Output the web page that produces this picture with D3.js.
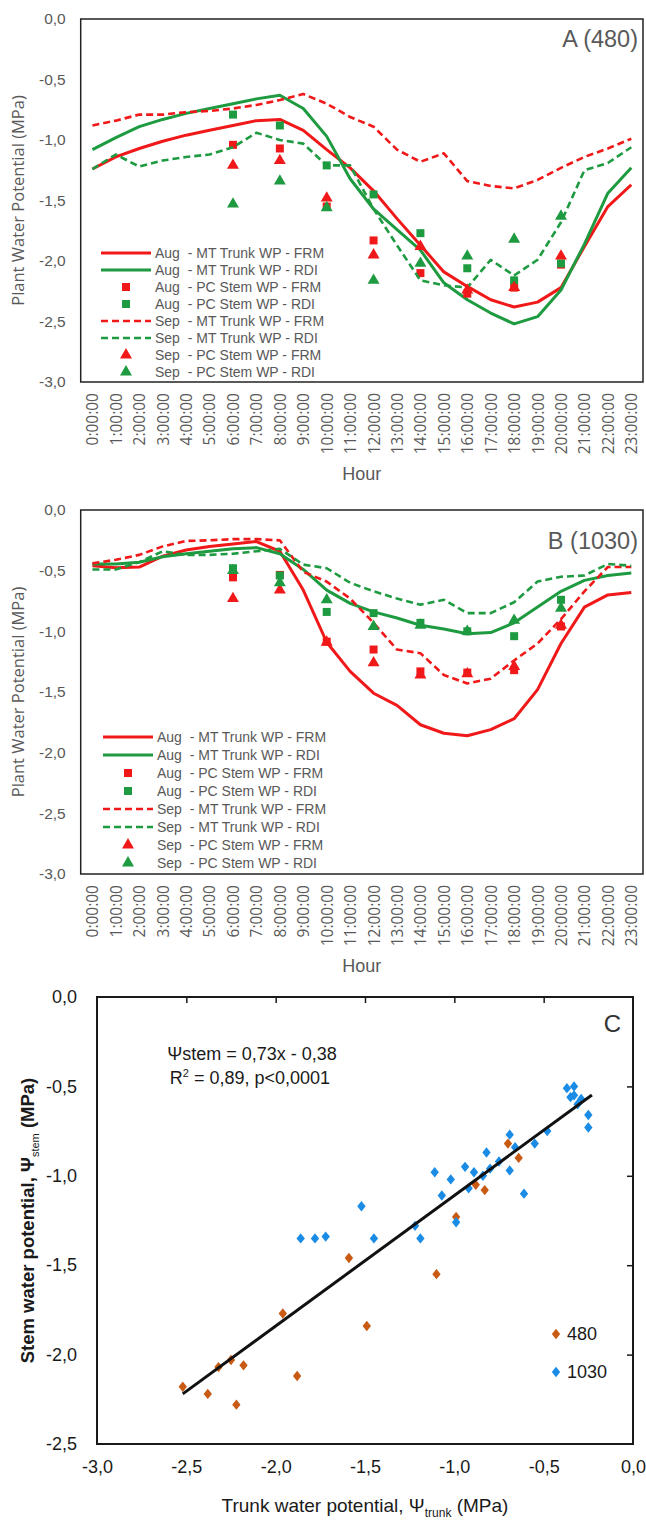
<!DOCTYPE html>
<html>
<head>
<meta charset="utf-8">
<script src="https://cdn.jsdelivr.net/npm/d3@7"></script>
<style>
  body { margin: 0; background: #fff; }
  text { font-family: 'Liberation Sans', Arial, sans-serif; }
  .wide { font-family: 'Open Sans', 'DejaVu Sans', sans-serif; }
</style>
</head>
<body>
<svg id="chart" width="646" height="1521"></svg>
<script>
'use strict';

// ---- data ----
const hours = ['0:00:00', '1:00:00', '2:00:00', '3:00:00', '4:00:00', '5:00:00', '6:00:00', '7:00:00',
    '8:00:00', '9:00:00', '10:00:00', '11:00:00', '12:00:00', '13:00:00', '14:00:00', '15:00:00',
    '16:00:00', '17:00:00', '18:00:00', '19:00:00', '20:00:00', '21:00:00', '22:00:00', '23:00:00'];
const sampleHours = ['6:00:00', '8:00:00', '10:00:00', '12:00:00', '14:00:00', '16:00:00', '18:00:00', '20:00:00'];
const wpTicks = [0, -0.5, -1, -1.5, -2, -2.5, -3];

// panel A (480)
const a_augTrunkFRM = [-1.24, -1.14, -1.07, -1.01, -0.96, -0.92, -0.88, -0.84, -0.83, -0.92, -1.08, -1.23,
    -1.42, -1.65, -1.87, -2.09, -2.21, -2.32, -2.38, -2.34, -2.22, -1.88, -1.55, -1.37];
const a_augTrunkRDI = [-1.08, -0.98, -0.89, -0.83, -0.78, -0.74, -0.70, -0.66, -0.63, -0.74, -0.97, -1.32,
    -1.57, -1.74, -1.91, -2.18, -2.32, -2.43, -2.52, -2.46, -2.24, -1.86, -1.44, -1.23];
const a_sepTrunkFRM = [-0.88, -0.84, -0.79, -0.79, -0.77, -0.76, -0.74, -0.71, -0.67, -0.62, -0.70, -0.81,
    -0.89, -1.08, -1.18, -1.11, -1.34, -1.38, -1.40, -1.33, -1.23, -1.14, -1.07, -0.99];
const a_sepTrunkRDI = [-1.24, -1.12, -1.22, -1.17, -1.14, -1.12, -1.06, -0.94, -1.00, -1.03, -1.21, -1.21,
    -1.57, -1.87, -2.16, -2.20, -2.22, -1.99, -2.12, -1.99, -1.68, -1.25, -1.19, -1.06];
const a_augStemFRM = [-1.04, -1.07, -1.55, -1.83, -2.10, -2.27, -2.22, -2.03];
const a_augStemRDI = [-0.79, -0.88, -1.21, -1.45, -1.77, -2.06, -2.16, -2.02];
const a_sepStemFRM = [-1.21, -1.17, -1.48, -1.95, -1.88, -2.24, -2.22, -1.96];
const a_sepStemRDI = [-1.53, -1.34, -1.56, -2.16, -2.02, -1.96, -1.82, -1.63];

// panel B (1030)
const b_augTrunkFRM = [-0.46, -0.475, -0.47, -0.38, -0.33, -0.30, -0.28, -0.26, -0.34, -0.66, -1.09, -1.33,
    -1.51, -1.61, -1.77, -1.84, -1.86, -1.81, -1.72, -1.48, -1.10, -0.80, -0.70, -0.68];
const b_augTrunkRDI = [-0.445, -0.445, -0.43, -0.385, -0.36, -0.34, -0.32, -0.31, -0.36, -0.49, -0.66, -0.77,
    -0.84, -0.89, -0.95, -0.98, -1.02, -1.01, -0.93, -0.80, -0.67, -0.58, -0.54, -0.52];
const b_sepTrunkFRM = [-0.44, -0.41, -0.37, -0.30, -0.255, -0.25, -0.24, -0.24, -0.25, -0.51, -0.59, -0.73,
    -0.93, -1.15, -1.18, -1.36, -1.43, -1.39, -1.24, -1.10, -0.90, -0.67, -0.47, -0.47];
const b_sepTrunkRDI = [-0.49, -0.49, -0.43, -0.34, -0.37, -0.37, -0.36, -0.34, -0.32, -0.45, -0.48, -0.60,
    -0.67, -0.73, -0.78, -0.74, -0.85, -0.85, -0.76, -0.59, -0.55, -0.54, -0.445, -0.46];
const b_augStemFRM = [-0.555, -0.535, -1.085, -1.15, -1.33, -1.34, -1.32, -0.96];
const b_augStemRDI = [-0.48, -0.54, -0.84, -0.85, -0.93, -1.00, -1.04, -0.74];
const b_sepStemFRM = [-0.73, -0.66, -1.09, -1.26, -1.36, -1.35, -1.29, -0.95];
const b_sepStemRDI = [-0.50, -0.60, -0.74, -0.96, -0.95, -1.00, -0.91, -0.81];

// panel C : trunk vs stem water potential
const c480Trunk = [-0.70, -0.64, -0.88, -0.83, -0.99, -1.59, -1.10, -1.96, -1.49, -2.52, -2.38, -2.32, -2.25, -2.18, -1.88, -2.22];
const c480Stem = [-0.82, -0.90, -1.05, -1.08, -1.23, -1.46, -1.55, -1.77, -1.84, -2.18, -2.22, -2.07, -2.03, -2.06, -2.12, -2.28];
const c1030Trunk = [-0.37, -0.33, -0.35, -0.33, -0.29, -0.31, -0.25, -0.25, -0.48, -0.55, -0.69, -0.66, -0.69, -0.61,
    -0.82, -0.75, -0.80, -0.84, -0.89, -0.94, -0.92, -1.02, -1.11, -1.07, -0.99, -1.22, -1.19, -1.45, -1.52, -1.72, -1.78, -1.86];
const c1030Stem = [-0.51, -0.50, -0.56, -0.55, -0.57, -0.60, -0.66, -0.73, -0.75, -0.82, -0.77, -0.84, -0.97, -1.10,
    -0.87, -0.92, -0.96, -1.00, -0.98, -0.95, -1.07, -1.02, -0.98, -1.11, -1.26, -1.28, -1.35, -1.35, -1.17, -1.34, -1.35, -1.35];
const fitSlope = 0.73;
const fitIntercept = -0.38;
const fitRange = [-2.52, -0.23];
const cTicksX = [-3, -2.5, -2, -1.5, -1, -0.5, 0];
const cTicksY = [0, -0.5, -1, -1.5, -2, -2.5];

const legendLabels = ['Aug  - MT Trunk WP - FRM', 'Aug  - MT Trunk WP - RDI', 'Aug  - PC Stem WP - FRM', 'Aug  - PC Stem WP - RDI',
    'Sep  - MT Trunk WP - FRM', 'Sep  - MT Trunk WP - RDI', 'Sep  - PC Stem WP - FRM', 'Sep  - PC Stem WP - RDI'];

// ---- drawing ----
const RED = '#f01818';
const GREEN = '#1e9a40';
const GREY = '#595959';
const svg = d3.select('#chart');
svg.append('rect').attr('width', 646).attr('height', 1521).attr('fill', '#fff');

const fmt = d3.formatLocale({decimal: ',', thousands: '.', grouping: [3], currency: ['', ''], minus: '-'}).format('.1f');

function drawDayPanel(p) {
    const left = 80.7, right = 643;
    const g = svg.append('g');
    const x = d3.scalePoint().domain(hours).range([left, right]).padding(0.5);
    const y = d3.scaleLinear().domain([-3, 0]).range([p.bottom, p.top]);

    g.append('g')
        .attr('transform', 'translate(' + left + ',0)')
        .call(d3.axisLeft(y).tickValues(wpTicks).tickSize(0).tickPadding(15).tickFormat(fmt))
        .call(a => a.select('.domain').remove())
        .selectAll('text')
            .attr('fill', GREY)
            .style('font-size', '15.5px');

    g.append('g')
        .attr('transform', 'translate(0,' + p.bottom + ')')
        .call(d3.axisBottom(x).tickSize(0))
        .call(a => a.select('.domain').remove())
        .selectAll('text')
            .attr('class', 'wide')
            .attr('fill', GREY)
            .style('font-size', '15.5px')
            .attr('y', 0)
            .attr('x', -11)
            .attr('dy', '0.35em')
            .attr('transform', 'rotate(-90)')
            .style('text-anchor', 'end');

    g.append('rect')
        .attr('x', left).attr('y', p.top)
        .attr('width', right - left).attr('height', p.bottom - p.top)
        .attr('fill', 'none').attr('stroke', '#222').attr('stroke-width', 1.5);

    const line = d3.line().x((d, i) => x(hours[i])).y(d => y(d));
    const series = [
        {type: 'line', data: p.augFRM, color: RED, dash: null},
        {type: 'line', data: p.augRDI, color: GREEN, dash: null},
        {type: 'square', data: p.augStemFRM, color: RED},
        {type: 'square', data: p.augStemRDI, color: GREEN},
        {type: 'line', data: p.sepFRM, color: RED, dash: '7,4'},
        {type: 'line', data: p.sepRDI, color: GREEN, dash: '7,4'},
        {type: 'triangle', data: p.sepStemFRM, color: RED},
        {type: 'triangle', data: p.sepStemRDI, color: GREEN}
    ];
    const sq = d3.symbol(d3.symbolSquare, 64);
    const tri = d3.symbol(d3.symbolTriangle, 62);

    for (let s of series) {
        if (s.type === 'line') {
            g.append('path')
                .datum(s.data)
                .attr('d', line)
                .attr('fill', 'none')
                .attr('stroke', s.color)
                .attr('stroke-width', s.dash ? 2.6 : 3)
                .attr('stroke-dasharray', s.dash)
                .attr('stroke-linejoin', 'round');
        } else {
            g.selectAll(null)
                .data(s.data)
                .enter().append('path')
                    .attr('transform', (d, i) => 'translate(' + x(sampleHours[i]) + ',' + y(d) + ')')
                    .attr('d', s.type === 'square' ? sq : tri)
                    .attr('fill', s.color);
        }
    }

    // legend
    const leg = g.append('g');
    series.forEach(function(s, i) {
        const ly = p.legendY + i * p.legendStep;
        if (s.type === 'line') {
            leg.append('line')
                .attr('x1', p.legendX).attr('x2', p.legendX + 50)
                .attr('y1', ly).attr('y2', ly)
                .attr('stroke', s.color)
                .attr('stroke-width', s.dash ? 2.6 : 3)
                .attr('stroke-dasharray', s.dash);
        } else {
            leg.append('path')
                .attr('transform', 'translate(' + (p.legendX + 25) + ',' + ly + ')')
                .attr('d', s.type === 'square' ? sq : tri)
                .attr('fill', s.color);
        }
        leg.append('text')
            .attr('x', p.legendX + 54)
            .attr('y', ly)
            .attr('dy', '0.35em')
            .attr('fill', GREY)
            .style('font-size', '14px')
            .style('white-space', 'pre')
            .text(legendLabels[i]);
    });

    g.append('text')
        .attr('x', 638).attr('y', p.titleY)
        .attr('text-anchor', 'end')
        .attr('fill', GREY)
        .style('font-size', '23.5px')
        .text(p.title);

    g.append('text')
        .attr('class', 'wide')
        .attr('transform', 'translate(24,' + (p.top + p.bottom) / 2 + ') rotate(-90)')
        .attr('text-anchor', 'middle')
        .attr('fill', GREY)
        .style('font-size', '16.5px')
        .text('Plant Water Potential (MPa)');

    g.append('text')
        .attr('x', (left + right) / 2).attr('y', p.bottom + 98)
        .attr('text-anchor', 'middle')
        .attr('fill', GREY)
        .style('font-size', '18px')
        .text('Hour');
}

drawDayPanel({
    top: 19, bottom: 382, title: 'A (480)', titleY: 47,
    legendX: 101, legendY: 253, legendStep: 17,
    augFRM: a_augTrunkFRM, augRDI: a_augTrunkRDI, sepFRM: a_sepTrunkFRM, sepRDI: a_sepTrunkRDI,
    augStemFRM: a_augStemFRM, augStemRDI: a_augStemRDI, sepStemFRM: a_sepStemFRM, sepStemRDI: a_sepStemRDI
});
drawDayPanel({
    top: 510, bottom: 874, title: 'B (1030)', titleY: 549,
    legendX: 103, legendY: 737, legendStep: 18,
    augFRM: b_augTrunkFRM, augRDI: b_augTrunkRDI, sepFRM: b_sepTrunkFRM, sepRDI: b_sepTrunkRDI,
    augStemFRM: b_augStemFRM, augStemRDI: b_augStemRDI, sepStemFRM: b_sepStemFRM, sepStemRDI: b_sepStemRDI
});

// ---- panel C ----
{
    const left = 97, right = 633, top = 997, bottom = 1444;
    const g = svg.append('g');
    const x = d3.scaleLinear().domain([-3, 0]).range([left, right]);
    const y = d3.scaleLinear().domain([-2.5, 0]).range([bottom, top]);
    const INK = '#1a1a1a';

    g.append('g')
        .attr('transform', 'translate(0,' + bottom + ')')
        .call(d3.axisBottom(x).tickValues(cTicksX).tickSize(0).tickPadding(16).tickFormat(fmt))
        .call(a => a.select('.domain').remove())
        .selectAll('text').attr('fill', INK).style('font-size', '18px');

    g.append('g')
        .attr('transform', 'translate(' + left + ',0)')
        .call(d3.axisLeft(y).tickValues(cTicksY).tickSize(0).tickPadding(20).tickFormat(fmt))
        .call(a => a.select('.domain').remove())
        .selectAll('text').attr('fill', INK).style('font-size', '18px');

    // inward ticks on top and right edges
    g.append('g')
        .attr('transform', 'translate(0,' + top + ')')
        .call(d3.axisBottom(x).tickValues(cTicksX.slice(1, -1)).tickSize(6).tickFormat(''))
        .call(a => a.select('.domain').remove())
        .selectAll('line').attr('stroke', INK).attr('stroke-width', 1.5);
    g.append('g')
        .attr('transform', 'translate(' + right + ',0)')
        .call(d3.axisLeft(y).tickValues(cTicksY.slice(1, -1)).tickSize(6).tickFormat(''))
        .call(a => a.select('.domain').remove())
        .selectAll('line').attr('stroke', INK).attr('stroke-width', 1.5);

    g.append('rect')
        .attr('x', left).attr('y', top)
        .attr('width', right - left).attr('height', bottom - top)
        .attr('fill', 'none').attr('stroke', INK).attr('stroke-width', 2);

    const diamondType = {
        draw: function(ctx, size) {
            const w = Math.sqrt(size) * 0.5, h = Math.sqrt(size) * 0.62;
            ctx.moveTo(0, -h); ctx.lineTo(w, 0); ctx.lineTo(0, h); ctx.lineTo(-w, 0); ctx.closePath();
        }
    };
    const diamond = d3.symbol(diamondType, 70);
    const ORANGE = '#c85a14';
    const BLUE = '#1a8ce6';

    g.selectAll('.p480')
        .data(d3.zip(c480Trunk, c480Stem))
        .enter().append('path')
            .attr('class', 'p480')
            .attr('transform', d => 'translate(' + x(d[0]) + ',' + y(d[1]) + ')')
            .attr('d', diamond)
            .attr('fill', ORANGE);
    g.selectAll('.p1030')
        .data(d3.zip(c1030Trunk, c1030Stem))
        .enter().append('path')
            .attr('class', 'p1030')
            .attr('transform', d => 'translate(' + x(d[0]) + ',' + y(d[1]) + ')')
            .attr('d', diamond)
            .attr('fill', BLUE);

    g.append('line')
        .attr('x1', x(fitRange[0])).attr('y1', y(fitSlope * fitRange[0] + fitIntercept))
        .attr('x2', x(fitRange[1])).attr('y2', y(fitSlope * fitRange[1] + fitIntercept))
        .attr('stroke', '#111').attr('stroke-width', 3);

    g.append('text')
        .attr('x', 252).attr('y', 1060)
        .attr('text-anchor', 'middle')
        .attr('fill', INK)
        .style('font-size', '18px')
        .text('Ψstem = 0,73x - 0,38');
    const r2 = g.append('text')
        .attr('x', 250).attr('y', 1084)
        .attr('text-anchor', 'middle')
        .attr('fill', INK)
        .style('font-size', '18px');
    r2.append('tspan').text('R');
    r2.append('tspan').attr('dy', -7).style('font-size', '11px').text('2');
    r2.append('tspan').attr('dy', 7).text(' = 0,89, p<0,0001');

    g.append('text')
        .attr('x', 621).attr('y', 1032)
        .attr('text-anchor', 'end')
        .attr('fill', '#333')
        .style('font-size', '24px')
        .text('C');

    const legC = [['480', ORANGE, 1334], ['1030', BLUE, 1372]];
    for (let [lab, col, ly] of legC) {
        g.append('path')
            .attr('transform', 'translate(556,' + ly + ')')
            .attr('d', diamond)
            .attr('fill', col);
        g.append('text')
            .attr('x', 567).attr('y', ly)
            .attr('dy', '0.35em')
            .attr('fill', INK)
            .style('font-size', '18px')
            .text(lab);
    }

    const yt = g.append('text')
        .attr('transform', 'translate(34,' + (top + bottom) / 2 + ') rotate(-90)')
        .attr('text-anchor', 'middle')
        .attr('fill', INK)
        .style('font-size', '18.5px')
        .style('font-weight', 'bold');
    yt.append('tspan').text('Stem water potential, Ψ');
    yt.append('tspan').attr('dy', 5).style('font-size', '11px').style('font-weight', 'normal').text('stem');
    yt.append('tspan').attr('dy', -5).text(' (MPa)');

    const xt = g.append('text')
        .attr('x', (left + right) / 2).attr('y', 1512)
        .attr('text-anchor', 'middle')
        .attr('fill', INK)
        .style('font-size', '19px');
    xt.append('tspan').text('Trunk water potential, Ψ');
    xt.append('tspan').attr('dy', 5).style('font-size', '12px').text('trunk');
    xt.append('tspan').attr('dy', -5).text(' (MPa)');
}
</script>
</body>
</html>
